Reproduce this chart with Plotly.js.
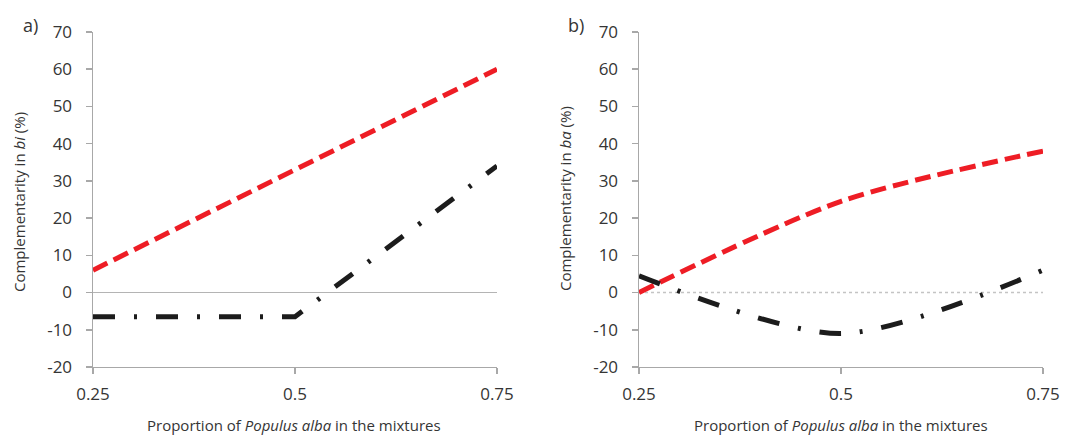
<!DOCTYPE html>
<html><head><meta charset="utf-8">
<script src="https://cdn.plot.ly/plotly-3.0.1.min.js"></script>
<style>html,body{margin:0;padding:0;background:#fff}#c{width:1080px;height:436px}</style>
</head><body><div id="c"></div>
<script>
const proportion = [0.25, 0.5, 0.75];
const xTickLabels = ['0.25', '0.5', '0.75'];
const yTickVals = [-20, -10, 0, 10, 20, 30, 40, 50, 60, 70];
const yTickLabels = ['-20', '-10', '0', '10', '20', '30', '40', '50', '60', '70'];
const biRed = [6, 33, 60];
const biBlack = [-6.5, -6.5, 34];
const baRed = [0, 24.5, 38];
const baBlack = [4.5, -11, 6];

const RED = '#ee1d25', BLACK = '#1c1c1c', AX = '#a8a8a8', TXT = '#353535';
const FONT = 'Open Sans, sans-serif';

const traces = [
  {x: proportion, y: biRed, xaxis: 'x', yaxis: 'y', mode: 'lines',
   line: {color: RED, width: 5, dash: '16px,7px'}},
  {x: proportion, y: biBlack, xaxis: 'x', yaxis: 'y', mode: 'lines',
   line: {color: BLACK, width: 5, dash: '22px,19px,3px,19px'}},
  {x: proportion, y: baRed, xaxis: 'x2', yaxis: 'y2', mode: 'lines',
   line: {color: RED, width: 5, dash: '16px,7px', shape: 'spline', smoothing: 0.8}},
  {x: proportion, y: baBlack, xaxis: 'x2', yaxis: 'y2', mode: 'lines',
   line: {color: BLACK, width: 5, dash: '22px,19px,3px,19px', shape: 'spline', smoothing: 0.8}}
];

function xax(dom, anchor) {
  return {domain: dom, anchor: anchor, range: [0.25, 0.75], tickvals: proportion, ticktext: xTickLabels,
    showgrid: false, zeroline: false, showline: true, linecolor: AX, linewidth: 1.5,
    ticks: 'outside', ticklen: 6, tickcolor: AX, tickwidth: 1.5,
    tickfont: {family: FONT, size: 17, color: TXT}, ticklabelstandoff: 5, fixedrange: true};
}
function yax(anchor, zl) {
  return {domain: [0.1583, 0.9266], anchor: anchor, range: [-20, 70], tickvals: yTickVals, ticktext: yTickLabels,
    showgrid: false, zeroline: zl, zerolinecolor: '#b4b4b4', zerolinewidth: 1.2,
    showline: true, linecolor: AX, linewidth: 1.5,
    ticks: 'outside', ticklen: 6, tickcolor: AX, tickwidth: 1.5,
    tickfont: {family: FONT, size: 17, color: TXT}, ticklabelstandoff: 10, fixedrange: true};
}

const ann = (x, y, text, size, angle) => ({xref: 'paper', yref: 'paper', x: x / 1080, y: 1 - y / 436,
  xanchor: 'center', yanchor: 'middle', text: text, showarrow: false, textangle: angle || 0,
  font: {family: FONT, size: size, color: TXT}});

const layout = {
  width: 1080, height: 436, margin: {l: 0, r: 0, t: 0, b: 0},
  paper_bgcolor: '#fff', plot_bgcolor: '#fff', showlegend: false,
  xaxis: xax([93 / 1080, 497 / 1080], 'y'),
  yaxis: yax('x', true),
  xaxis2: xax([639 / 1080, 1043 / 1080], 'y2'),
  yaxis2: yax('x2', false),
  shapes: [{type: 'line', xref: 'x2 domain', yref: 'y2', x0: 0, x1: 1, y0: 0, y1: 0,
    line: {color: '#c4c4c4', width: 1.5, dash: 'dot'}, layer: 'below'}],
  annotations: [
    ann(30, 25, 'a)', 18), ann(576, 25, 'b)', 18),
    ann(19, 202, 'Complementarity in <i>bi</i> (%)', 15, -90),
    ann(565, 199, 'Complementarity in <i>ba</i> (%)', 15, -90),
    ann(294, 425, 'Proportion of <i>Populus alba</i> in the mixtures', 15),
    ann(841, 425, 'Proportion of <i>Populus alba</i> in the mixtures', 15)
  ]
};
Plotly.newPlot('c', traces, layout, {staticPlot: true});
</script></body></html>
